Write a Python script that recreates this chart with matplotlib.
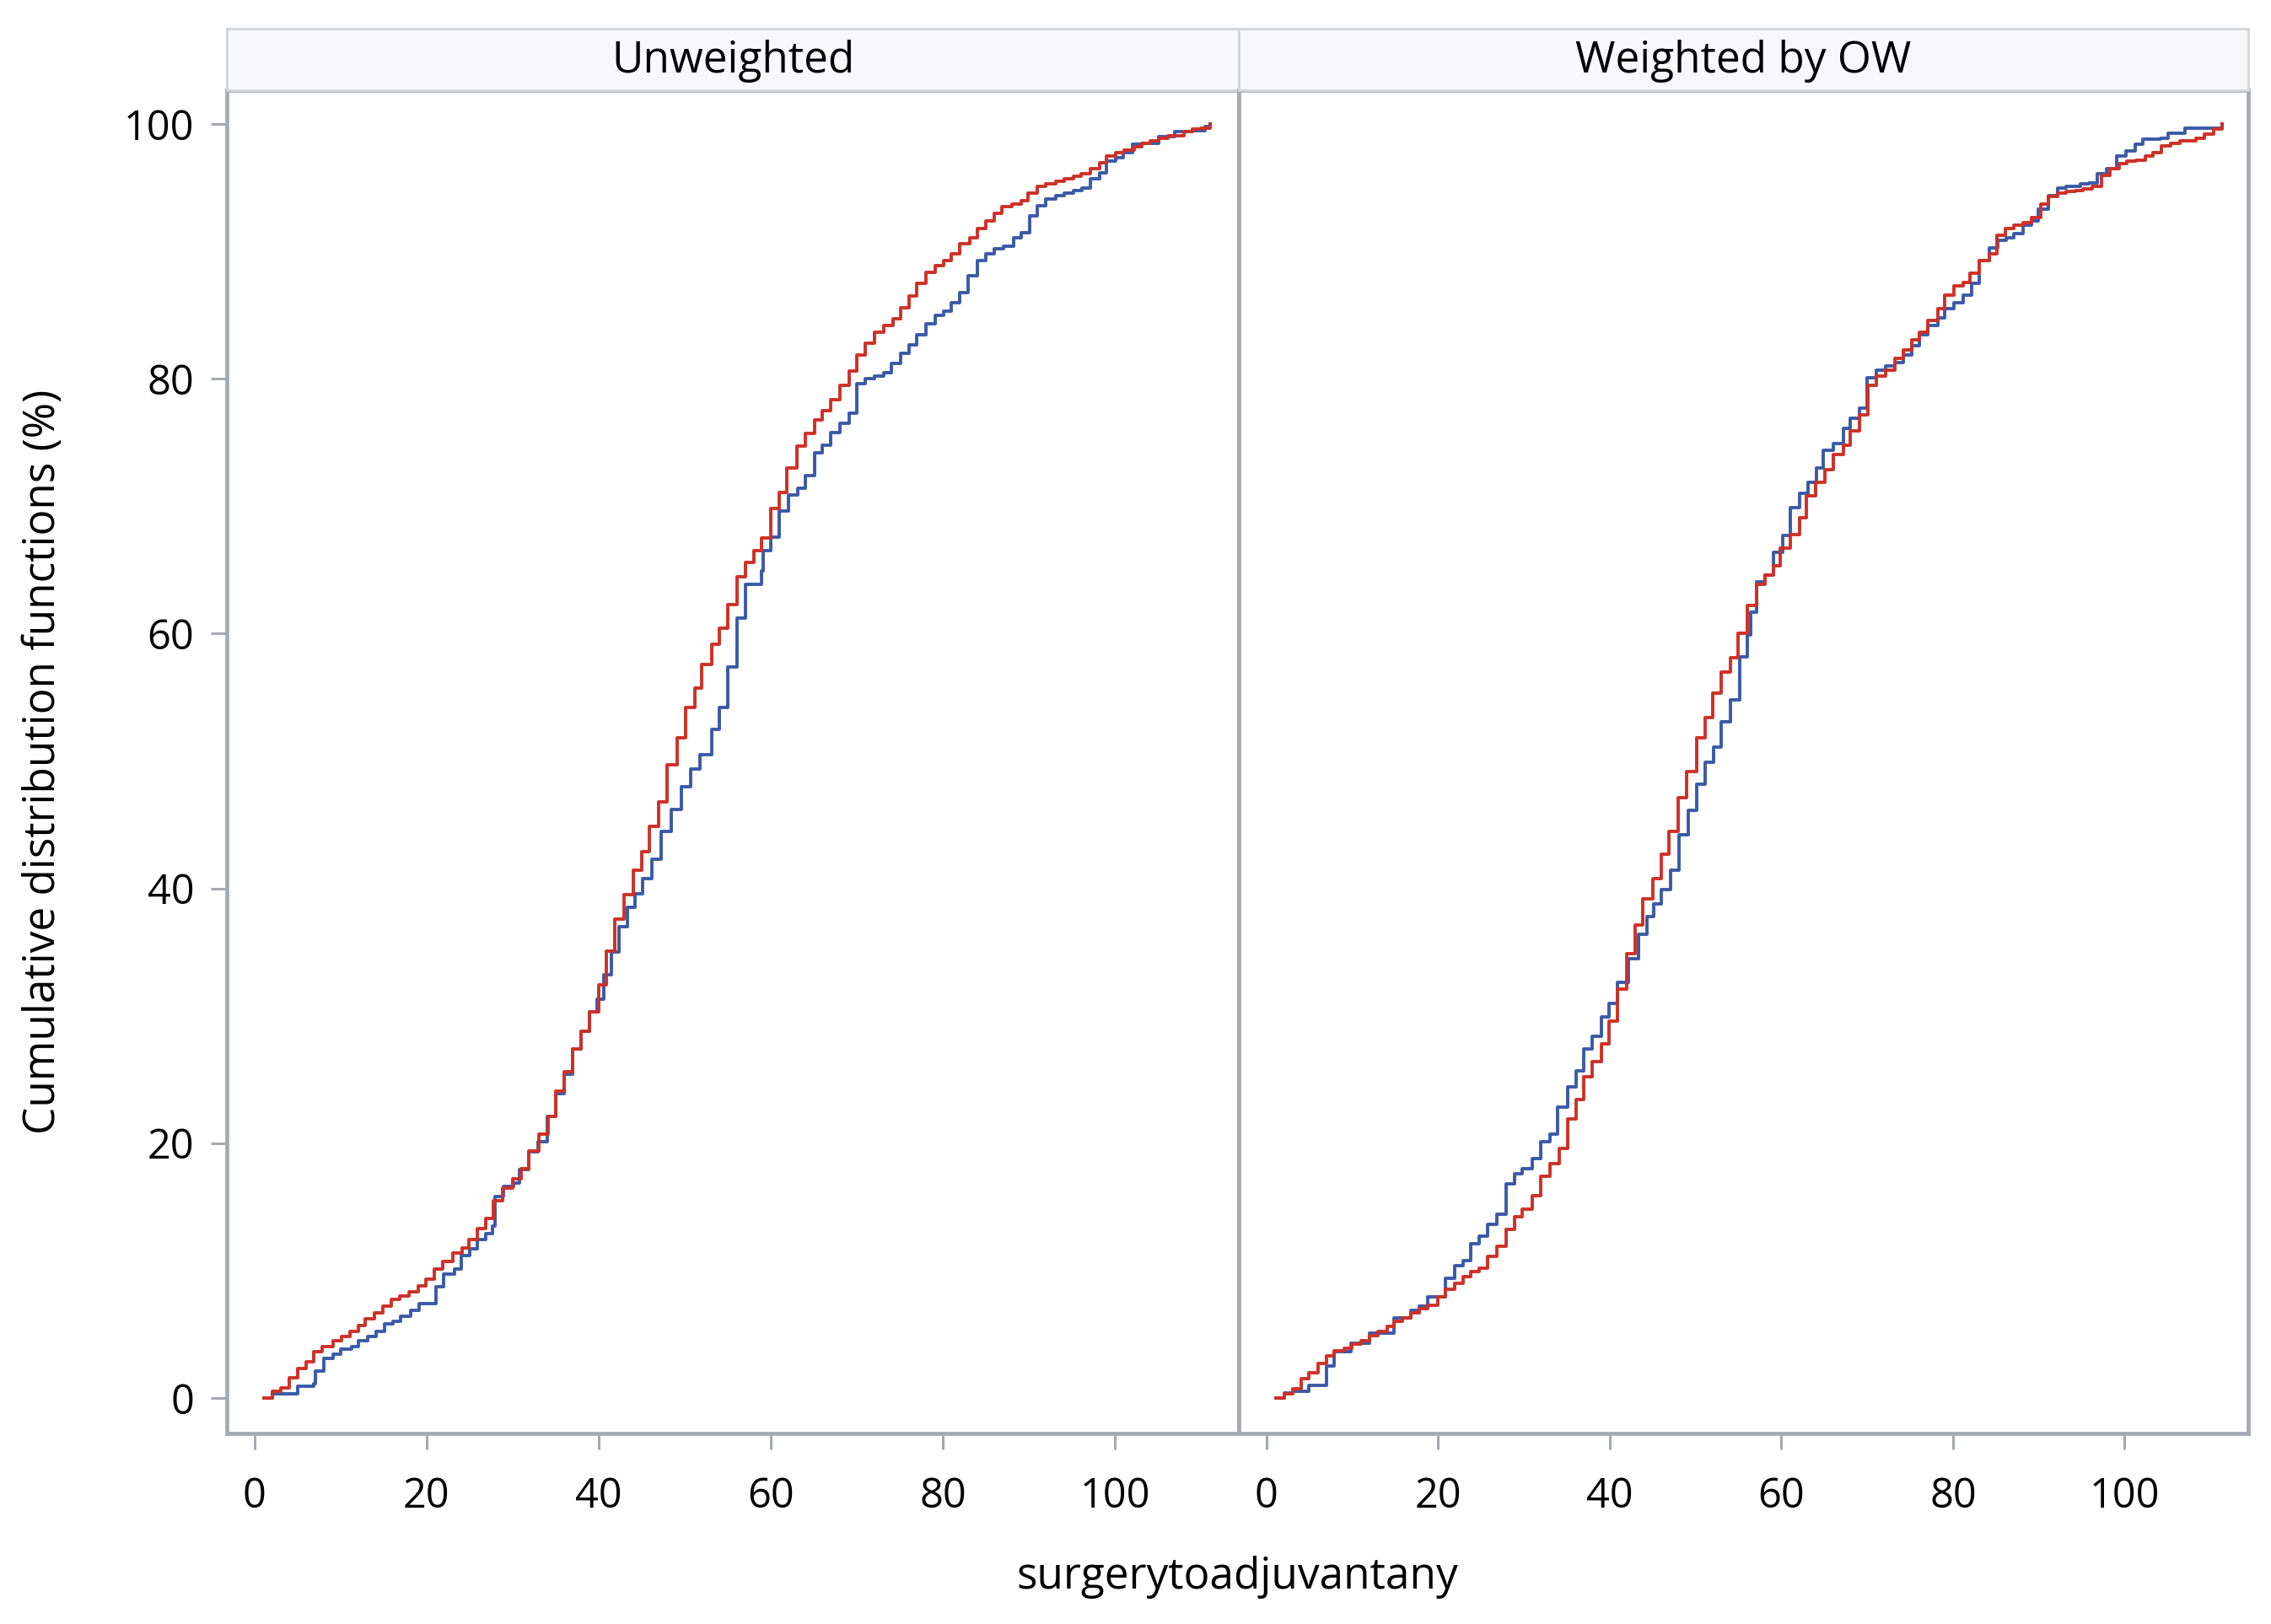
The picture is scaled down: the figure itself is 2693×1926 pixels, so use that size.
import numpy as np
import matplotlib.pyplot as plt

# Step points (x = days, y = cumulative %)
unw_red_x = [1.1, 2.1, 3.1, 4.0, 5.0, 6.0, 6.9, 7.9, 9.1, 10.1, 11.1, 12.1, 12.9, 13.9, 14.9, 15.9,
             16.9, 18.0, 19.0, 19.9, 20.9, 21.9, 23.1, 24.1, 24.9, 25.9, 26.9, 27.8, 28.8, 30.0,
             31.0, 31.9, 33.1, 34.1, 35.0, 36.0, 37.0, 38.0, 38.9, 40.0, 40.9, 41.9, 43.0, 44.0,
             45.0, 45.9, 47.0, 48.0, 49.1, 50.1, 51.2, 52.0, 53.1, 54.0, 55.0, 56.1, 57.1, 58.0,
             58.9, 60.0, 61.0, 61.9, 63.0, 64.0, 65.1, 66.0, 67.0, 68.0, 69.1, 70.0, 71.0, 72.1,
             73.1, 74.2, 75.1, 76.1, 77.0, 78.0, 79.1, 80.1, 81.0, 82.0, 83.1, 84.0, 85.0, 86.0,
             86.9, 88.0, 89.1, 89.9, 91.0, 92.0, 93.1, 94.1, 95.2, 96.1, 97.1, 98.2, 99.0, 100.1,
             101.1, 102.2, 103.1, 104.1, 105.1, 106.2, 108.0, 109.0, 110.0, 111.1]
unw_red_y = [0, 0.5, 0.8, 1.6, 2.3, 2.8, 3.6, 4.0, 4.5, 4.8, 5.2, 5.7, 6.2, 6.7, 7.2, 7.7,
             8.0, 8.3, 8.8, 9.3, 10.1, 10.7, 11.4, 11.8, 12.4, 13.3, 14.1, 15.5, 16.5, 17.2,
             18.0, 19.4, 20.7, 22.1, 24.1, 25.6, 27.4, 28.8, 30.3, 32.4, 35.1, 37.6, 39.5, 41.4,
             42.9, 44.9, 46.8, 49.7, 51.8, 54.2, 55.7, 57.6, 59.2, 60.4, 62.3, 64.5, 65.6, 66.5,
             67.5, 69.8, 71.1, 73.0, 74.7, 75.7, 76.8, 77.5, 78.4, 79.5, 80.6, 81.9, 82.8, 83.7,
             84.2, 84.7, 85.6, 86.5, 87.5, 88.4, 88.9, 89.3, 89.8, 90.6, 91.1, 91.8, 92.4, 93.0,
             93.5, 93.7, 94.0, 94.6, 95.1, 95.3, 95.5, 95.7, 95.9, 96.1, 96.5, 97.0, 97.5, 97.8,
             98.0, 98.2, 98.5, 98.7, 98.9, 99.1, 99.4, 99.6, 99.7, 100]

unw_blue_x = [1.1, 2.1, 5.0, 6.9, 7.1, 8.1, 9.1, 10.0, 11.3, 12.1, 13.2, 14.1, 15.1, 16.1, 17.0,
              18.2, 19.1, 21.1, 22.0, 23.3, 24.0, 25.0, 25.9, 26.9, 27.7, 28.0, 28.9, 30.1, 30.8,
              31.9, 33.0, 34.0, 35.0, 36.0, 37.0, 38.0, 38.9, 39.8, 40.6, 41.5, 42.4, 43.3, 44.2,
              45.1, 46.2, 47.3, 48.4, 49.6, 50.7, 51.8, 53.1, 54.0, 55.0, 56.1, 57.1, 58.9, 59.1,
              60.0, 61.0, 62.1, 63.1, 64.0, 65.1, 66.0, 67.0, 68.0, 69.1, 70.0, 71.0, 72.1, 73.1,
              74.0, 75.1, 76.1, 77.0, 78.0, 79.1, 80.1, 81.0, 82.0, 82.9, 84.0, 85.0, 86.0, 87.1,
              88.2, 89.1, 90.1, 91.0, 92.0, 93.1, 94.1, 95.2, 96.2, 97.1, 98.2, 99.0, 100.1, 101.0,
              102.0, 103.1, 105.1, 106.9, 109.0, 110.5, 111.1]
unw_blue_y = [0, 0.3, 0.9, 1.1, 2.1, 3.1, 3.4, 3.8, 4.0, 4.5, 4.8, 5.2, 5.8, 6.0, 6.4,
              6.9, 7.4, 8.7, 9.7, 10.1, 11.2, 11.7, 12.4, 12.9, 13.5, 15.8, 16.6, 16.9, 17.9,
              19.3, 20.1, 22.1, 23.9, 25.4, 27.4, 28.8, 30.3, 31.3, 33.2, 35.0, 37.0, 38.5, 39.6,
              40.8, 42.3, 44.5, 46.2, 48.0, 49.4, 50.5, 52.5, 54.2, 57.4, 61.2, 63.9, 64.9, 66.5,
              67.6, 69.6, 70.9, 71.4, 72.4, 74.2, 74.8, 75.8, 76.5, 77.3, 79.6, 80.0, 80.2, 80.5,
              81.2, 82.0, 82.7, 83.5, 84.3, 85.0, 85.3, 86.0, 86.8, 88.1, 89.3, 89.8, 90.2, 90.4,
              91.1, 91.5, 92.8, 93.6, 94.1, 94.4, 94.6, 94.8, 95.0, 95.7, 96.2, 97.1, 97.4, 97.8,
              98.4, 98.5, 99.0, 99.4, 99.5, 99.8, 100]

ow_red_x = [1.1, 2.1, 3.1, 4.1, 5.0, 6.0, 7.0, 7.9, 9.1, 10.0, 11.0, 12.0, 13.0, 14.1, 14.9, 15.9,
            16.8, 17.8, 18.8, 20.0, 20.9, 21.9, 22.9, 23.8, 24.8, 25.8, 26.9, 27.9, 28.9, 29.8,
            31.0, 32.0, 33.0, 34.1, 35.1, 36.1, 37.0, 38.0, 39.0, 39.9, 40.9, 42.0, 43.0, 43.9,
            45.0, 46.0, 46.9, 48.0, 49.0, 50.1, 51.1, 52.0, 53.0, 54.1, 55.0, 56.0, 57.1, 58.1,
            59.1, 59.9, 61.0, 62.1, 62.9, 64.0, 65.1, 66.1, 67.2, 68.0, 69.1, 70.1, 71.1, 72.1,
            73.2, 74.2, 75.2, 76.1, 77.1, 78.2, 79.0, 80.1, 81.2, 82.0, 83.1, 84.2, 85.1, 86.1,
            87.1, 88.2, 89.1, 90.2, 91.1, 92.2, 93.2, 94.3, 95.1, 96.2, 97.3, 98.3, 99.4, 100.2,
            101.3, 102.4, 103.3, 104.3, 105.4, 106.4, 108.3, 109.3, 110.4, 111.3]
ow_red_y = [0, 0.3, 0.7, 1.5, 2.0, 2.7, 3.3, 3.7, 3.9, 4.2, 4.5, 4.9, 5.2, 5.6, 6.0, 6.3,
            6.7, 7.0, 7.3, 7.9, 8.5, 9.0, 9.5, 9.9, 10.2, 11.1, 11.9, 13.2, 14.2, 14.8,
            15.9, 17.4, 18.4, 19.6, 21.9, 23.4, 25.2, 26.4, 27.8, 29.6, 32.1, 34.9, 37.1, 39.2,
            40.8, 42.7, 44.5, 47.1, 49.2, 51.8, 53.4, 55.3, 57.0, 58.1, 60.0, 62.2, 63.9, 64.6,
            65.3, 66.7, 67.8, 69.1, 70.8, 71.9, 72.9, 74.1, 74.8, 75.9, 77.2, 79.5, 80.2, 80.7,
            81.6, 82.3, 83.1, 83.7, 84.6, 85.5, 86.6, 87.3, 87.6, 88.3, 89.3, 89.8, 91.3, 91.8,
            92.1, 92.3, 92.7, 93.7, 94.3, 94.6, 94.7, 94.8, 94.9, 95.1, 96.0, 96.5, 96.9, 97.1,
            97.2, 97.5, 97.8, 98.3, 98.5, 98.7, 98.9, 99.2, 99.6, 100]

ow_blue_x = [1.1, 2.1, 3.1, 5.0, 7.0, 7.9, 9.9, 12.0, 14.9, 16.8, 17.8, 18.8, 20.9, 21.9, 22.9,
             23.8, 24.8, 25.8, 26.9, 27.9, 28.9, 29.8, 31.0, 32.0, 33.0, 33.9, 35.1, 36.1, 37.0,
             38.0, 39.0, 39.9, 40.9, 42.2, 43.4, 44.3, 45.1, 46.0, 47.1, 48.1, 49.2, 50.1, 51.1,
             52.1, 53.0, 54.1, 55.2, 56.0, 56.4, 57.1, 58.1, 59.1, 60.2, 61.0, 62.1, 63.1, 64.1,
             64.9, 66.1, 67.2, 68.0, 69.1, 70.0, 71.1, 72.1, 73.2, 74.2, 75.2, 76.1, 77.1, 78.2,
             79.0, 80.1, 81.2, 82.2, 83.1, 84.2, 85.2, 86.2, 87.1, 88.2, 89.1, 89.9, 91.1, 92.2,
             93.2, 94.8, 95.8, 96.8, 97.9, 99.1, 100.1, 101.2, 102.1, 104.2, 105.1, 107.0, 111.3]
ow_blue_y = [0, 0.4, 0.5, 1.0, 2.5, 3.6, 4.3, 5.1, 6.3, 6.9, 7.2, 7.9, 9.4, 10.4, 10.8,
             12.1, 12.7, 13.6, 14.4, 16.8, 17.6, 18.0, 18.8, 20.1, 20.7, 22.8, 24.4, 25.7, 27.4,
             28.4, 29.9, 31.0, 32.6, 34.5, 36.4, 37.8, 38.8, 39.9, 41.4, 44.2, 46.1, 48.2, 49.9,
             51.1, 53.1, 54.8, 58.2, 59.9, 61.7, 64.1, 64.6, 66.4, 67.7, 69.9, 71.0, 71.9, 73.0,
             74.4, 74.9, 76.1, 76.9, 77.7, 80.1, 80.7, 81.0, 81.3, 81.9, 82.6, 83.5, 84.2, 84.8,
             85.5, 86.0, 86.6, 87.5, 89.3, 90.3, 90.9, 91.1, 91.4, 92.1, 92.4, 93.3, 94.4, 95.0,
             95.1, 95.3, 95.4, 96.1, 96.5, 97.5, 97.9, 98.4, 98.8, 98.9, 99.3, 99.7, 100]

panel_titles = ["Unweighted", "Weighted by OW"]
xticks = [0, 20, 40, 60, 80, 100]
yticks = [0, 20, 40, 60, 80, 100]

blue = "#3A5AA8"
red = "#CF3026"
frame_col = "#A3AAB0"

plt.rcParams['font.family'] = ['Open Sans', 'DejaVu Sans']

fig = plt.figure(figsize=(26.93, 19.26), dpi=100)
left, mid, right = 0.0999, 0.5455, 0.990
bottom, top, strip_top = 0.1173, 0.9447, 0.9823

curves = [(unw_blue_x, unw_blue_y, unw_red_x, unw_red_y),
          (ow_blue_x, ow_blue_y, ow_red_x, ow_red_y)]
edges = [(left, mid), (mid, right)]

for i, ((x0, x1), (bx, by, rx, ry)) in enumerate(zip(edges, curves)):
    ax = fig.add_axes([x0, bottom, x1 - x0, top - bottom])
    ax.step(bx, by, where='post', color=blue, lw=2.8)
    ax.step(rx, ry, where='post', color=red, lw=2.8)
    ax.set_xlim(-3.2, 114.4)
    ax.set_ylim(-2.8, 102.7)
    ax.set_xticks(xticks)
    ax.set_yticks(yticks)
    for s in ax.spines.values():
        s.set_color(frame_col)
        s.set_linewidth(3.4)
    ax.tick_params(axis='both', direction='out', length=14, width=2.2,
                   color=frame_col, labelsize=35, labelcolor='black')
    ax.tick_params(axis='x', pad=22)
    ax.tick_params(axis='y', pad=14)
    if i == 1:
        ax.tick_params(axis='y', left=False, labelleft=False)

    # strip header
    sax = fig.add_axes([x0, top, x1 - x0, strip_top - top])
    sax.set_xticks([])
    sax.set_yticks([])
    sax.set_facecolor("#F8F8FB")
    for s in sax.spines.values():
        s.set_color("#D2D5D8")
        s.set_linewidth(2)
    sax.text(0.5, 0.47, panel_titles[i], ha='center', va='center', fontsize=37,
             transform=sax.transAxes)

fig.text(0.019, (bottom + top) / 2, "Cumulative distribution functions (%)",
         rotation=90, ha='center', va='center', fontsize=37)
fig.text((left + right) / 2, 0.029, "surgerytoadjuvantany", ha='center', va='center',
         fontsize=37)

fig.savefig("out.png", dpi=100)
